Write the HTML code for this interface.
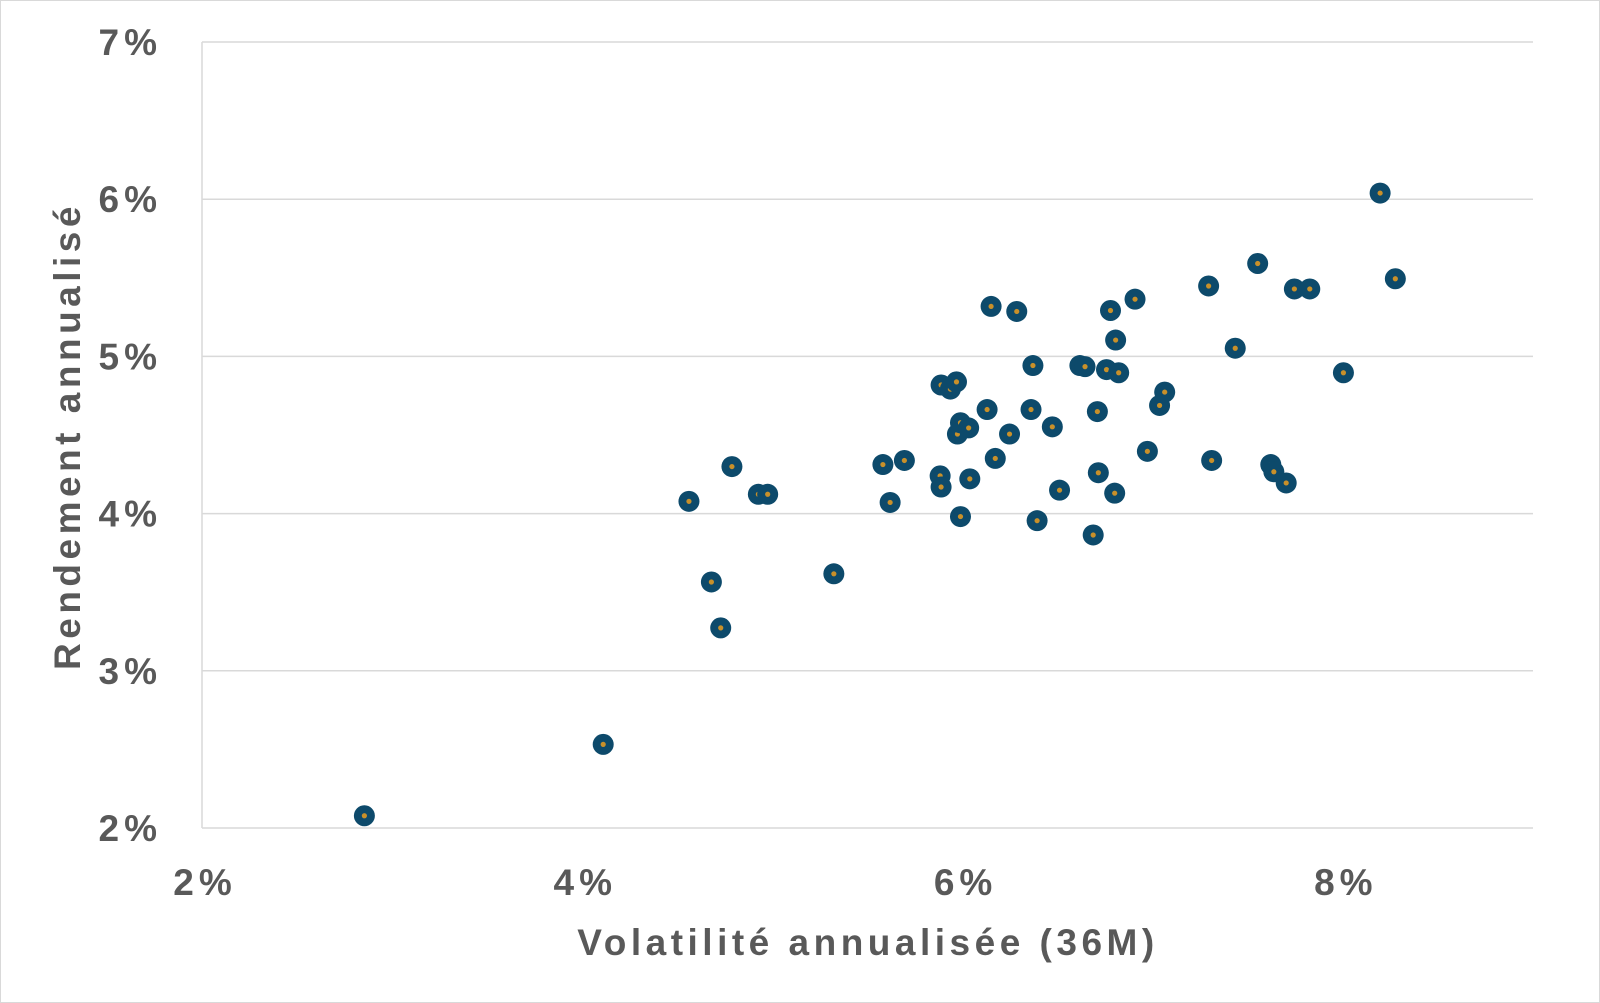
<!DOCTYPE html>
<html><head><meta charset="utf-8"><style>
html,body{margin:0;padding:0;background:#fff;}
svg{display:block;font-family:"Liberation Sans",Arial,sans-serif;}
</style></head><body>
<svg id="chart" width="1600" height="1003" viewBox="0 0 1600 1003" xmlns="http://www.w3.org/2000/svg">
<rect x="0.5" y="0.5" width="1599" height="1002" fill="#fff" stroke="#d9d9d9"/>
<g id="grid"></g><g id="axes"></g><g id="points"></g>
<text x="868" y="955" text-anchor="middle" font-size="37" font-weight="bold" fill="#595959" letter-spacing="4.5">Volatilité annualisée (36M)</text>
<text transform="translate(80,436) rotate(-90)" text-anchor="middle" font-size="37" font-weight="bold" fill="#595959" letter-spacing="4.5">Rendement annualisé</text>
</svg>
<script>
const volatility=[2.854,4.110,4.561,4.679,4.728,4.787,4.926,4.975,5.323,5.581,5.619,5.694,5.882,5.887,5.887,5.936,5.968,5.973,5.989,6.032,5.989,6.038,6.129,6.150,6.172,6.247,6.285,6.360,6.370,6.392,6.472,6.510,6.617,6.644,6.687,6.709,6.714,6.757,6.778,6.800,6.805,6.821,6.907,6.972,7.036,7.063,7.294,7.310,7.434,7.552,7.621,7.637,7.702,7.745,7.826,8.003,8.196,8.276];
const returns=[2.078,2.532,4.078,3.565,3.273,4.299,4.123,4.123,3.617,4.312,4.071,4.338,4.240,4.169,4.818,4.792,4.838,4.506,4.578,4.545,3.981,4.221,4.662,5.318,4.351,4.506,5.286,4.662,4.942,3.955,4.552,4.149,4.942,4.935,3.864,4.649,4.260,4.916,5.292,4.130,5.104,4.896,5.364,4.396,4.688,4.773,5.448,4.338,5.052,5.591,4.312,4.266,4.195,5.429,5.429,4.896,6.039,5.494];
const xTicks=[2,4,6,8];
const yTicks=[2,3,4,5,6,7];
const X0=202,X1=1533,Y0=828,Y1=42;
const xScale=v=>X0+(v-2)/(9-2)*(X1-X0);
const yScale=v=>Y0-(v-2)/(7-2)*(Y0-Y1);
const NS="http://www.w3.org/2000/svg";
function mk(tag,attrs,parent){const e=document.createElementNS(NS,tag);for(const k in attrs)e.setAttribute(k,attrs[k]);parent.appendChild(e);return e;}
const grid=document.getElementById('grid'),axes=document.getElementById('axes'),pts=document.getElementById('points');
yTicks.forEach(t=>{
  const y=yScale(t);
  if(t>2){const l=mk('line',{x1:X0,x2:X1,y1:y,y2:y,stroke:'#d9d9d9','stroke-width':1.5},grid);
  
  }
  const tx=mk('text',{x:162,y:y+13,'text-anchor':'end','font-size':37,'font-weight':'bold',fill:'#595959','letter-spacing':5},axes);
  tx.textContent=t+'%';
  
  
});
xTicks.forEach(t=>{
  const x=xScale(t);
  const tx=mk('text',{x:x+3,y:895,'text-anchor':'middle','font-size':37,'font-weight':'bold',fill:'#595959','letter-spacing':5},axes);
  tx.textContent=t+'%';
  
  
});
const xa=mk('line',{x1:X0,x2:X1,y1:Y0,y2:Y0,stroke:'#d9d9d9','stroke-width':1.5},axes);


const ya=mk('line',{x1:X0,x2:X0,y1:Y1,y2:Y0,stroke:'#d9d9d9','stroke-width':1.5},axes);


volatility.forEach((v,i)=>{
  const cx=xScale(v),cy=yScale(returns[i]);
  const c=mk('circle',{cx:cx,cy:cy,r:10.5,fill:'#0d4a6b'},pts);
  
  
  const d=mk('circle',{cx:cx,cy:cy,r:2.6,fill:'#c8902a'},pts);
  
  
});
</script>
</body></html>
